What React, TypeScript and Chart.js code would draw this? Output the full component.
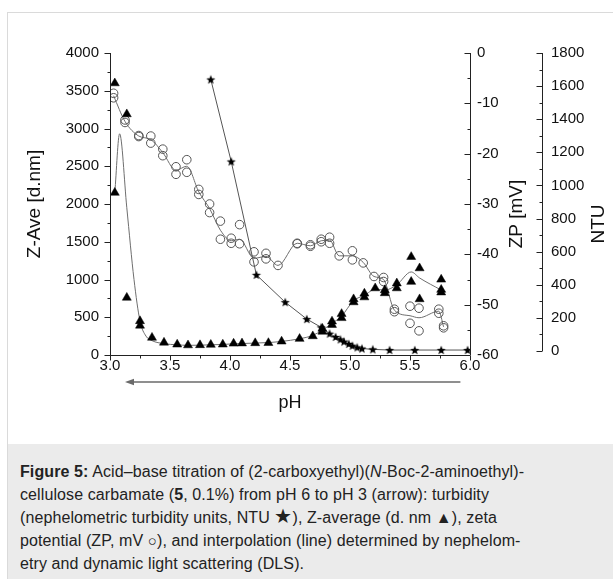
import React, { useEffect, useRef } from 'react';
import { Chart, registerables } from 'chart.js';
Chart.register(...registerables);

// ---- data ----
const zAvePh = [3.04,3.04,3.14,3.14,3.25,3.25,3.35,3.45,3.56,3.65,3.75,3.84,3.94,4.03,4.10,4.21,4.32,4.43,4.58,4.69,4.77,4.77,4.85,4.85,4.93,4.93,5.03,5.03,5.12,5.12,5.21,5.29,5.29,5.39,5.39,5.51,5.51,5.58,5.58,5.76,5.76,5.76];
const zAveNm = [3600,2150,3190,760,450,390,230,165,140,130,132,137,140,152,155,158,160,180,215,250,350,310,445,400,545,490,740,700,815,765,885,860,820,950,885,1300,970,1150,740,1000,865,830];

const zLinePh = [3.04,3.08,3.14,3.2,3.25,3.3,3.35,3.45,3.56,3.65,3.75,3.84,3.94,4.03,4.1,4.21,4.32,4.43,4.58,4.69,4.77,4.85,4.93,5.03,5.12,5.21,5.29,5.39,5.51,5.58,5.76];
const zLineNm = [2150,2930,1950,1000,450,250,190,150,135,128,130,135,140,148,152,158,165,180,215,260,330,420,515,720,790,870,860,930,1100,1020,860];

const zpPh = [3.03,3.03,3.125,3.125,3.24,3.24,3.34,3.34,3.44,3.44,3.55,3.55,3.64,3.64,3.74,3.74,3.83,3.83,3.92,3.92,4.01,4.01,4.08,4.08,4.20,4.20,4.30,4.30,4.40,4.56,4.56,4.67,4.67,4.76,4.76,4.83,4.83,4.91,5.02,5.02,5.11,5.20,5.28,5.28,5.37,5.37,5.50,5.50,5.575,5.575,5.74,5.74,5.78,5.78];
const zpMv = [-8.0,-8.9,-13.3,-13.8,-16.4,-16.6,-16.5,-17.9,-19.1,-20.4,-22.6,-24.1,-21.2,-23.7,-27.1,-28.1,-30.0,-31.7,-33.4,-37.0,-36.8,-37.8,-34.1,-37.9,-39.5,-41.5,-39.8,-40.9,-42.2,-37.8,-37.9,-38.1,-38.4,-37.0,-37.5,-36.6,-37.8,-40.3,-39.3,-41.1,-41.7,-44.4,-44.6,-45.4,-50.9,-51.4,-50.3,-53.7,-50.7,-55.2,-50.9,-51.7,-54.2,-54.6];

const zpLinePh = [3.03,3.125,3.24,3.34,3.44,3.55,3.64,3.74,3.83,3.92,4.01,4.08,4.20,4.30,4.40,4.56,4.67,4.76,4.83,4.91,5.02,5.11,5.20,5.28,5.37,5.50,5.575,5.74,5.78];
const zpLineMv = [-8.5,-13.6,-16.5,-17.2,-19.8,-23.3,-22.5,-27.6,-30.9,-35.2,-37.3,-37.0,-40.8,-40.4,-42.2,-37.8,-38.3,-37.3,-37.2,-40.3,-40.3,-41.6,-44.4,-45.0,-51.1,-52.2,-52.6,-51.3,-54.4];

const ntuPh = [3.84,4.01,4.22,4.46,4.64,4.76,4.83,4.88,4.92,4.95,4.99,5.02,5.06,5.10,5.19,5.33,5.54,5.76,5.98];
const ntuVal = [1640,1145,460,295,193,143,105,85,70,57,43,32,22,15,10,6,6,6,6];

// ---- axis ticks ----
const xTicks = [3.0,3.5,4.0,4.5,5.0,5.5,6.0];
const zTicks = [0,500,1000,1500,2000,2500,3000,3500,4000];
const zpTicks = [-60,-50,-40,-30,-20,-10,0];
const ntuTicks = [0,200,400,600,800,1000,1200,1400,1600,1800];

const FONT = '"Liberation Sans", Arial, Helvetica, sans-serif';
const INK = '#111';

function pairs(xs: number[], ys: number[]) {
  return xs.map((x, i) => ({ x, y: ys[i] }));
}

function makeStar(r: number) {
  const s = Math.ceil(r * 2 + 2);
  const c = document.createElement('canvas');
  c.width = s; c.height = s;
  const g = c.getContext('2d')!;
  g.fillStyle = '#000';
  g.beginPath();
  for (let i = 0; i < 10; i++) {
    const rad = i % 2 ? r * 0.42 : r;
    const a = -Math.PI / 2 + i * Math.PI / 5;
    const px = s / 2 + rad * Math.cos(a);
    const py = s / 2 + 0.4 + rad * Math.sin(a);
    if (i) g.lineTo(px, py); else g.moveTo(px, py);
  }
  g.closePath();
  g.fill();
  return c;
}

function mids(t: number[]) {
  const out: number[] = [];
  for (let i = 0; i < t.length - 1; i++) out.push((t[i] + t[i + 1]) / 2);
  return out;
}

const axesPlugin = {
  id: 'customAxes',
  afterDraw(chart: any) {
    const { ctx, chartArea: ca, scales } = chart;
    const sx = scales.x, sy = scales.y, szp = scales.zp, sntu = scales.ntu;
    const r = (v: number) => Math.round(v) + 0.5;
    ctx.save();
    ctx.strokeStyle = '#222';
    ctx.lineWidth = 1;
    const seg = (x1: number, y1: number, x2: number, y2: number) => {
      ctx.beginPath(); ctx.moveTo(x1, y1); ctx.lineTo(x2, y2); ctx.stroke();
    };
    // x axis
    const yb = r(ca.bottom);
    seg(ca.left, yb, ca.right, yb);
    xTicks.forEach(v => { const px = r(sx.getPixelForValue(v)); seg(px, yb, px, yb + 5); });
    mids(xTicks).forEach(v => { const px = r(sx.getPixelForValue(v)); seg(px, yb, px, yb + 3); });
    // left Z axis
    const xl = r(ca.left);
    seg(xl, sy.getPixelForValue(4000), xl, ca.bottom);
    zTicks.forEach(v => { const py = r(sy.getPixelForValue(v)); seg(xl, py, xl - 6, py); });
    mids(zTicks).forEach(v => { const py = r(sy.getPixelForValue(v)); seg(xl, py, xl - 3, py); });
    // ZP axis
    const xr = r(ca.right);
    seg(xr, szp.getPixelForValue(0), xr, szp.getPixelForValue(-60));
    zpTicks.forEach(v => { const py = r(szp.getPixelForValue(v)); seg(xr, py, xr - 6, py); });
    mids(zpTicks).forEach(v => { const py = r(szp.getPixelForValue(v)); seg(xr, py, xr - 3, py); });
    // NTU axis
    const xn = r(sntu.left);
    seg(xn, sntu.getPixelForValue(1800), xn, sntu.getPixelForValue(0));
    ntuTicks.forEach(v => { const py = r(sntu.getPixelForValue(v)); seg(xn, py, xn - 6, py); });
    mids(ntuTicks).forEach(v => { const py = r(sntu.getPixelForValue(v)); seg(xn, py, xn - 3, py); });

    // arrow (pH 6 -> pH 3)
    const ay = ca.bottom + 27;
    const ax0 = sx.getPixelForValue(5.92);
    const ax1 = sx.getPixelForValue(3.125);
    ctx.strokeStyle = '#6a6a6a';
    ctx.fillStyle = '#6a6a6a';
    ctx.lineWidth = 1.6;
    seg(ax0, ay, ax1 + 6, ay);
    ctx.beginPath();
    ctx.moveTo(ax1, ay);
    ctx.lineTo(ax1 + 9, ay - 3.2);
    ctx.lineTo(ax1 + 9, ay + 3.2);
    ctx.closePath();
    ctx.fill();

    // titles
    ctx.fillStyle = INK;
    ctx.textAlign = 'center';
    ctx.textBaseline = 'middle';
    ctx.font = `19px ${FONT}`;
    const midY = (ca.top + ca.bottom) / 2;
    const vtitle = (text: string, x: number, y: number) => {
      ctx.save(); ctx.translate(x, y); ctx.rotate(-Math.PI / 2); ctx.fillText(text, 0, 0); ctx.restore();
    };
    vtitle('Z-Ave [d.nm]', ca.left - 75, midY);
    vtitle('ZP [mV]', ca.right + 47, midY + 10);
    vtitle('NTU', sntu.left + 57, midY + 20);
    ctx.font = `18px ${FONT}`;
    ctx.fillText('pH', (ca.left + ca.right) / 2, ca.bottom + 48);
    ctx.restore();
  },
};

export default function App() {
  const ref = useRef<HTMLCanvasElement>(null);
  useEffect(() => {
    const canvas = ref.current!;
    const star = makeStar(4.8);
    const tickFont = { family: FONT, size: 15 };
    const setTicks = (arr: number[]) => (s: any) => { s.ticks = arr.map(v => ({ value: v })); };
    const plain = (v: any) => String(v);
    const common = {
      grid: { display: false, drawTicks: false },
      border: { display: false },
    };
    const chart = new Chart(canvas, {
      type: 'scatter',
      data: {
        datasets: [
          {
            label: 'Z-Ave', data: pairs(zAvePh, zAveNm), yAxisID: 'y',
            pointStyle: 'triangle', pointRadius: 5.2, backgroundColor: '#000', borderColor: '#000', borderWidth: 0.5,
          },
          {
            label: 'ZP', data: pairs(zpPh, zpMv), yAxisID: 'zp',
            pointStyle: 'circle', pointRadius: 4.3, backgroundColor: 'rgba(0,0,0,0)', borderColor: '#555', borderWidth: 1,
          },
          {
            label: 'NTU', data: pairs(ntuPh, ntuVal), yAxisID: 'ntu', showLine: true,
            pointStyle: star as any, pointRadius: 5, borderColor: '#555', borderWidth: 1, backgroundColor: '#000',
          },
          {
            label: 'Z line', data: pairs(zLinePh, zLineNm), yAxisID: 'y', showLine: true,
            pointRadius: 0, borderColor: '#6e6e6e', borderWidth: 1, cubicInterpolationMode: 'monotone',
          },
          {
            label: 'ZP line', data: pairs(zpLinePh, zpLineMv), yAxisID: 'zp', showLine: true,
            pointRadius: 0, borderColor: '#6e6e6e', borderWidth: 1, cubicInterpolationMode: 'monotone',
          },
        ],
      },
      options: {
        animation: false,
        responsive: false,
        devicePixelRatio: 1,
        events: [],
        layout: { padding: { left: 14, right: 3, top: 40, bottom: 0 } },
        plugins: { legend: { display: false }, tooltip: { enabled: false } },
        scales: {
          x: {
            type: 'linear', position: 'bottom', min: 3, max: 6, ...common,
            afterBuildTicks: setTicks(xTicks),
            afterFit: (s: any) => { s.height = 89; },
            ticks: { font: tickFont, color: INK, padding: 2, maxRotation: 0, minRotation: 0, autoSkip: false,
              callback: (v: any) => Number(v).toFixed(1) },
          },
          y: {
            type: 'linear', position: 'left', min: 0, max: 4000, ...common,
            afterBuildTicks: setTicks(zTicks),
            afterFit: (s: any) => { s.width = 88; },
            ticks: { font: tickFont, color: INK, padding: 11, autoSkip: false, callback: plain },
          },
          zp: {
            type: 'linear', position: 'right', min: -60, max: 0, ...common,
            afterBuildTicks: setTicks(zpTicks),
            afterFit: (s: any) => { s.width = 72; },
            ticks: { font: tickFont, color: INK, padding: 7, autoSkip: false, callback: plain },
          },
          ntu: {
            type: 'linear', position: 'right', min: -24, max: 1800, ...common,
            afterBuildTicks: setTicks(ntuTicks),
            afterFit: (s: any) => { s.width = 68; },
            ticks: { font: tickFont, color: INK, padding: 9, autoSkip: false, callback: plain },
          },
        },
      } as any,
      plugins: [axesPlugin],
    });
    return () => chart.destroy();
  }, []);

  return (
    <div style={{ position: 'absolute', left: 0, top: 0, width: 613, height: 579, background: '#fff', overflow: 'hidden' }}>
      <div style={{ position: 'absolute', left: 7, top: 12, width: 606, height: 567, borderLeft: '1px solid #dadada', borderTop: '1px solid #dadada', boxSizing: 'border-box' }} />
      <canvas ref={ref} width={605} height={431} style={{ position: 'absolute', left: 8, top: 13, width: 605, height: 431 }} />
      <div style={{ position: 'absolute', left: 8, top: 444, width: 605, height: 135, background: '#ebebeb', fontFamily: FONT, fontSize: 16, letterSpacing: '0.1px', lineHeight: '23px', color: '#222', padding: '16px 0 0 12px', boxSizing: 'border-box', whiteSpace: 'nowrap' }}>
        <b>Figure 5:</b> Acid–base titration of (2-carboxyethyl)(<i>N</i>-Boc-2-aminoethyl)-<br />
        cellulose carbamate (<b>5</b>, 0.1%) from pH 6 to pH 3 (arrow): turbidity<br />
        (nephelometric turbidity units, NTU <span style={{ fontSize: 20, lineHeight: '16px' }}>★</span>), Z-average (d. nm ▲), zeta<br />
        potential (ZP, mV <span style={{ fontSize: 15, lineHeight: '16px' }}>○</span>), and interpolation (line) determined by nephelom-<br />
        etry and dynamic light scattering (DLS).
      </div>
    </div>
  );
}
